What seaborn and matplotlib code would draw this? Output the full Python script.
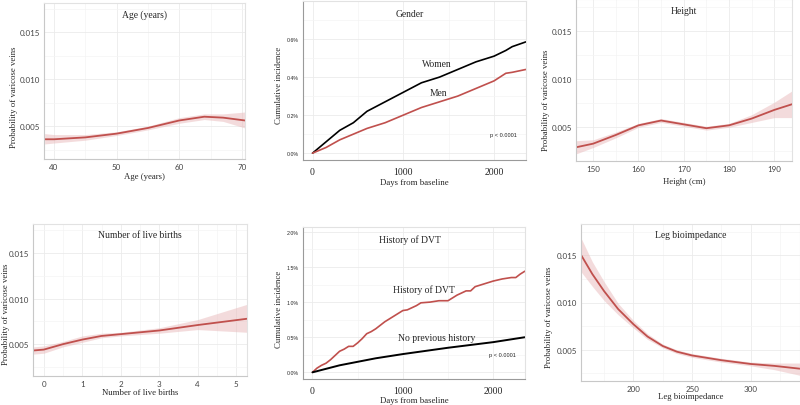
import numpy as np
import pandas as pd
import matplotlib
matplotlib.use("Agg")
import matplotlib.pyplot as plt
from matplotlib.ticker import AutoMinorLocator, FuncFormatter
import seaborn as sns

# ---- data ----
age_x = [38.5, 40, 45, 50, 55, 60, 64, 67, 70.5]
age_y = [0.0036, 0.0036, 0.0038, 0.0042, 0.0048, 0.0056, 0.0060, 0.0059, 0.0056]
age_lo = [0.0031, 0.0032, 0.0035, 0.0040, 0.0046, 0.0053, 0.0057, 0.0055, 0.0048]
age_hi = [0.0042, 0.0041, 0.0041, 0.0044, 0.0050, 0.0059, 0.0063, 0.0063, 0.0065]

height_x = [146, 150, 155, 160, 165, 170, 175, 180, 185, 190, 194]
height_y = [0.0029, 0.0033, 0.0042, 0.0052, 0.0057, 0.0053, 0.0049, 0.0052, 0.0059, 0.0068, 0.0074]
height_lo = [0.0022, 0.0029, 0.0039, 0.0050, 0.0055, 0.0051, 0.0047, 0.0050, 0.0055, 0.0060, 0.0060]
height_hi = [0.0036, 0.0037, 0.0045, 0.0054, 0.0059, 0.0055, 0.0051, 0.0054, 0.0063, 0.0076, 0.0088]

births_x = [-0.28, 0, 0.5, 1, 1.5, 2, 3, 4, 5.3]
births_y = [0.0043, 0.0044, 0.0050, 0.0055, 0.0059, 0.0061, 0.0065, 0.0071, 0.0078]
births_lo = [0.0039, 0.0040, 0.0047, 0.0052, 0.0057, 0.0059, 0.0062, 0.0066, 0.0063]
births_hi = [0.0047, 0.0048, 0.0053, 0.0059, 0.0062, 0.0063, 0.0068, 0.0077, 0.0094]

leg_x = [155, 165, 175, 187, 200, 212, 225, 237, 250, 275, 300, 320, 342]
leg_y = [0.0151, 0.0130, 0.0112, 0.0093, 0.0077, 0.0064, 0.0054, 0.0048, 0.0044, 0.0039, 0.0035, 0.0033, 0.0030]
leg_lo = [0.0133, 0.0117, 0.0102, 0.0087, 0.0073, 0.0061, 0.0052, 0.0046, 0.0042, 0.0037, 0.0033, 0.0029, 0.0023]
leg_hi = [0.0169, 0.0143, 0.0122, 0.0099, 0.0081, 0.0067, 0.0056, 0.0050, 0.0046, 0.0041, 0.0037, 0.0036, 0.0036]

gender_days = [0, 150, 300, 450, 600, 800, 1000, 1200, 1400, 1600, 1800, 2000, 2130, 2200, 2350]
women_inc = [0.0, 0.06, 0.12, 0.16, 0.22, 0.27, 0.32, 0.37, 0.40, 0.44, 0.48, 0.51, 0.54, 0.56, 0.585]
men_inc = [0.0, 0.03, 0.07, 0.10, 0.13, 0.16, 0.20, 0.24, 0.27, 0.30, 0.34, 0.38, 0.42, 0.425, 0.44]

dvt_days = [0, 50, 100, 150, 200, 250, 300, 350, 400, 450, 500, 550, 600, 650, 700, 750,
            800, 850, 900, 950, 1000, 1050, 1100, 1150, 1200, 1300, 1400, 1500, 1550,
            1600, 1700, 1750, 1800, 1900, 2000, 2100, 2200, 2250, 2300, 2350]
dvt_inc = [0.0, 0.06, 0.10, 0.13, 0.18, 0.24, 0.30, 0.33, 0.37, 0.37, 0.42, 0.48, 0.55, 0.58,
           0.62, 0.67, 0.72, 0.76, 0.80, 0.84, 0.88, 0.89, 0.92, 0.95, 0.99, 1.00, 1.02, 1.02,
           1.06, 1.10, 1.16, 1.16, 1.22, 1.26, 1.30, 1.33, 1.35, 1.35, 1.40, 1.44]
nohist_days = [0, 300, 700, 1000, 1500, 2000, 2350]
nohist_inc = [0.0, 0.10, 0.20, 0.26, 0.35, 0.43, 0.50]

RED = "#c0504d"
FILL = "#e9b9ba"
SERIF = ["Liberation Serif", "DejaVu Serif"]
TITLE_FS = 6.9
LABEL_FS = 6.3

sns.set_style("white")
fig = plt.figure(figsize=(8, 4.06), dpi=100)


def px_axes(l, t, r, b):
    return fig.add_axes([l / 800, 1 - b / 406, (r - l) / 800, (b - t) / 406])


def place_labels(ax, box, ylab_x, ylab_y, xlab_y):
    # put axis label centres at given pixel positions
    l, t, r, b = box
    ax.xaxis.label.set_va("center")
    ax.yaxis.label.set_va("center")
    ax.xaxis.set_label_coords(0.5, (b - xlab_y) / (b - t))
    ax.yaxis.set_label_coords((ylab_x - l) / (r - l), (b - ylab_y) / (b - t))


def style_axes(ax, edge="#c8c8c8"):
    ax.xaxis.set_minor_locator(AutoMinorLocator(2))
    ax.yaxis.set_minor_locator(AutoMinorLocator(2))
    ax.grid(True, which="major", color="#ebebeb", lw=0.6)
    ax.grid(True, which="minor", color="#f4f4f4", lw=0.5)
    ax.set_axisbelow(True)
    for s in ax.spines.values():
        s.set_color("#e2e2e2")
        s.set_linewidth(0.8)
    ax.spines["left"].set_color(edge)
    ax.spines["bottom"].set_color(edge)
    ax.tick_params(which="major", length=2, color="#999999", pad=1)
    ax.tick_params(which="minor", length=0)


def prob_panel(box, x, y, lo, hi, title, xlabel, xlim, xticks, ylab_x, ylab_y, xlab_y):
    ax = px_axes(*box)
    df = pd.DataFrame({"x": x, "y": y})
    ax.fill_between(x, lo, hi, color=FILL, alpha=0.5, lw=0)
    sns.lineplot(data=df, x="x", y="y", ax=ax, color=RED, lw=1.3)
    ax.set_xlim(*xlim)
    ax.set_xticks(xticks)
    ax.set_yticks([0.005, 0.010, 0.015])
    ax.yaxis.set_major_formatter(FuncFormatter(lambda v, p: f"{v:.3f}"))
    style_axes(ax)
    for lab in ax.get_xticklabels() + ax.get_yticklabels():
        lab.set_fontfamily("Lato")
        lab.set_fontsize(5.8)
        lab.set_color("#444444")
    ax.set_xlabel(xlabel, fontfamily=SERIF, fontsize=LABEL_FS)
    ax.set_ylabel("Probability of varicose veins", fontfamily=SERIF, fontsize=LABEL_FS)
    place_labels(ax, box, ylab_x, ylab_y, xlab_y)
    ax.text(0.5, 0.93, title, transform=ax.transAxes, ha="center", va="center",
            fontfamily=SERIF, fontsize=TITLE_FS)
    return ax


def inc_panel(box, ylim, yticks, title, ylab_y, xlab_y):
    ax = px_axes(*box)
    ax.set_xlim(-105, 2352)
    ax.set_ylim(*ylim)
    ax.set_xticks([0, 1000, 2000])
    ax.set_yticks(yticks)
    ax.yaxis.set_major_formatter(FuncFormatter(lambda v, p: f"{v:.1f}%"))
    style_axes(ax, edge="#9a9a9a")
    ax.tick_params(axis="x", pad=3)
    for lab in ax.get_yticklabels():
        lab.set_fontfamily("Liberation Sans")
        lab.set_fontsize(3.8)
    for lab in ax.get_xticklabels():
        lab.set_fontfamily(SERIF)
        lab.set_fontsize(7)
    ax.set_xlabel("Days from baseline", fontfamily=SERIF, fontsize=LABEL_FS)
    ax.set_ylabel("Cumulative incidence", fontfamily=SERIF, fontsize=LABEL_FS)
    place_labels(ax, box, 279, ylab_y, xlab_y)
    ax.text(0.48, 0.92, title, transform=ax.transAxes, ha="center", va="center",
            fontfamily=SERIF, fontsize=TITLE_FS)
    ax.text(0.96, 0.16, "p < 0.0001", transform=ax.transAxes, ha="right", va="center",
            fontfamily="Liberation Sans", fontsize=4.1)
    return ax


# Age
ax1 = prob_panel((44, 4, 245, 160), age_x, age_y, age_lo, age_hi,
                 "Age (years)", "Age (years)", (38.4, 70.5), [40, 50, 60, 70], 14, 97, 177)
ax1.set_ylim(0.0015, 0.0181)

# Gender
ax2 = inc_panel((303, 2, 526, 161), (-0.036, 0.8), [0.0, 0.2, 0.4, 0.6], "Gender", 85, 183)
g_df = pd.DataFrame({"days": gender_days * 2,
                     "inc": women_inc + men_inc,
                     "group": ["Women"] * len(gender_days) + ["Men"] * len(gender_days)})
sns.lineplot(data=g_df, x="days", y="inc", hue="group", palette={"Women": "black", "Men": RED},
             ax=ax2, lw=1.2, legend=False)
ax2.text(1370, 0.472, "Women", ha="center", va="center", fontfamily=SERIF, fontsize=TITLE_FS)
ax2.text(1390, 0.32, "Men", ha="center", va="center", fontfamily=SERIF, fontsize=TITLE_FS)
ax2.set_xlabel("Days from baseline", fontfamily=SERIF, fontsize=LABEL_FS)
ax2.set_ylabel("Cumulative incidence", fontfamily=SERIF, fontsize=LABEL_FS)
place_labels(ax2, (303, 2, 526, 161), 279, 85, 183)

# Height
ax3 = prob_panel((576, 0, 792, 162), height_x, height_y, height_lo, height_hi,
                 "Height", "Height (cm)", (146.2, 193.9), [150, 160, 170, 180, 190], 546, 100, 182)
ax3.set_ylim(0.0015, 0.0183)

# Number of live births
ax4 = prob_panel((33, 225, 247, 377), births_x, births_y, births_lo, births_hi,
                 "Number of live births", "Number of live births", (-0.28, 5.28),
                 [0, 1, 2, 3, 4, 5], 6, 314, 393)
ax4.set_ylim(0.0015, 0.0182)

# History of DVT
box5 = (303, 228, 525, 380)
ax5 = inc_panel(box5, (-0.095, 2.07), [0.0, 0.5, 1.0, 1.5, 2.0], "History of DVT", 309, 401)
sns.lineplot(x=dvt_days, y=dvt_inc, ax=ax5, color=RED, lw=1.2)
sns.lineplot(x=nohist_days, y=nohist_inc, ax=ax5, color="black", lw=1.4)
ax5.text(1230, 1.19, "History of DVT", ha="center", va="center", fontfamily=SERIF, fontsize=TITLE_FS)
ax5.text(1380, 0.50, "No previous history", ha="center", va="center", fontfamily=SERIF, fontsize=TITLE_FS)
ax5.set_xlabel("Days from baseline", fontfamily=SERIF, fontsize=LABEL_FS)
ax5.set_ylabel("Cumulative incidence", fontfamily=SERIF, fontsize=LABEL_FS)
place_labels(ax5, box5, 279, 309, 401)

# Leg bioimpedance
ax6 = prob_panel((581, 225, 800, 382), leg_x, leg_y, leg_lo, leg_hi,
                 "Leg bioimpedance", "Leg bioimpedance", (155.3, 342), [200, 250, 300],
                 549, 317, 397)
ax6.set_ylim(0.0017, 0.0183)

fig.savefig("out.png", dpi=100)
